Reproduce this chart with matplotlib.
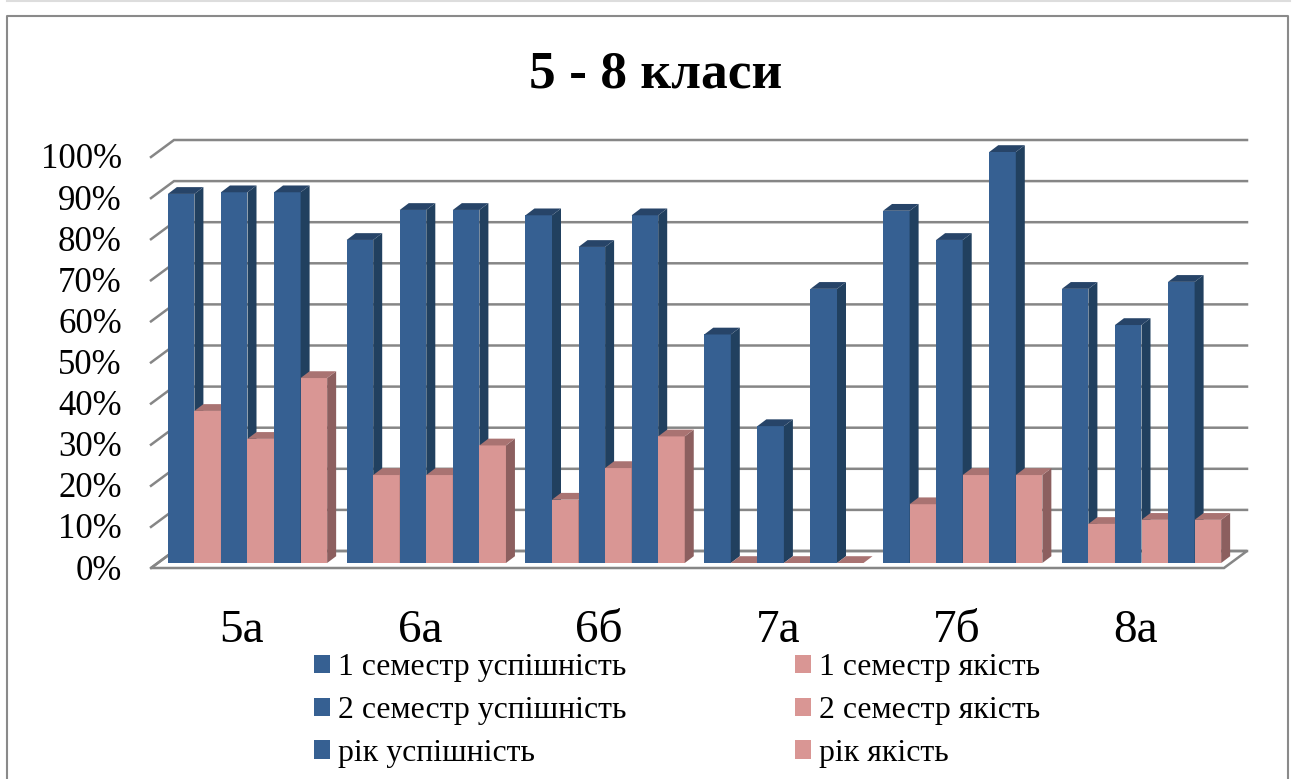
import matplotlib
matplotlib.use('Agg')
import matplotlib.pyplot as plt
from matplotlib.lines import Line2D

plt.rcParams['font.family'] = ['Liberation Serif', 'DejaVu Serif']

classes = ['5а', '6а', '6б', '7а', '7б', '8а']
sem1_pass = [89.8, 78.6, 84.6, 55.6, 85.7, 66.7]
sem1_qual = [37.0, 21.4, 15.4, 0, 14.3, 9.5]
sem2_pass = [90.2, 85.9, 76.9, 33.3, 78.6, 57.9]
sem2_qual = [30.2, 21.4, 23.1, 0, 21.4, 10.5]
year_pass = [90.2, 85.9, 84.6, 66.7, 100, 68.4]
year_qual = [45.0, 28.6, 30.8, 0, 21.4, 10.5]
y_ticks = list(range(0, 101, 10))

series = [
    ('1 семестр успішність', sem1_pass, 'blue'),
    ('1 семестр якість', sem1_qual, 'pink'),
    ('2 семестр успішність', sem2_pass, 'blue'),
    ('2 семестр якість', sem2_qual, 'pink'),
    ('рік успішність', year_pass, 'blue'),
    ('рік якість', year_qual, 'pink'),
]
colors = {
    'blue': ('#366092', '#21405F', '#274468'),
    'pink': ('#D99694', '#8C5F5F', '#A97372'),
}

W, H = 1296, 779
GROUP_PX = 178.8   # pixels per category
PCT_PX = 4.11      # pixels per percent
X0_PX = 247.5      # centre of first category
Y0_PX = 563        # bar base


def hpx(px):
    return px / GROUP_PX


def vpx(px):
    return px / PCT_PX


fig = plt.figure(figsize=(W / 100, H / 100), dpi=100)
ax = fig.add_axes([0, 0, 1, 1])
ax.set_xlim(-X0_PX / GROUP_PX, (W - X0_PX) / GROUP_PX)
ax.set_ylim(-(H - Y0_PX) / PCT_PX, Y0_PX / PCT_PX)
ax.axis('off')

# walls and floor
left = hpx(151 - X0_PX)
right = hpx(1224 - X0_PX)
front = vpx(Y0_PX - 568)
wall_dx = hpx(23)
wall_dy = vpx(17)
grid = '#868686'
ax.fill([left, right, right + wall_dx, left + wall_dx],
        [front, front, front + wall_dy, front + wall_dy],
        facecolor='white', edgecolor=grid, linewidth=1.8, zorder=1)
for t in y_ticks:
    y = front + t
    ax.plot([left, left + wall_dx, right + wall_dx],
            [y, y + wall_dy, y + wall_dy], color=grid, lw=1.8, zorder=2,
            solid_joinstyle='miter')
    ax.text(hpx(122 - X0_PX), y - vpx(3), f'{t}%', ha='right', va='center', fontsize=25,
            color='black', zorder=3)

# bars, painted left to right so every bar overlaps the side of the previous one
bar_w = 26.55 / GROUP_PX
depth_x = hpx(9)
depth_y = vpx(6.8)
handles = {}
for s, (label, values, col) in enumerate(series):
    face, side, top = colors[col]
    xs = [g + (s - 2.5) * bar_w for g in range(len(classes))]
    bars = ax.bar(xs, values, width=bar_w, color=face, label=label, linewidth=0)
    handles[label] = bars
    for g, (x, v) in enumerate(zip(xs, values)):
        z = 10 + g * 10 + s
        bars[g].set_zorder(z)
        x1 = x - bar_w / 2
        x2 = x + bar_w / 2
        ax.fill([x2, x2 + depth_x, x2 + depth_x, x2],
                [0, depth_y, v + depth_y, v], color=side, lw=0, zorder=z + 0.1)
        ax.fill([x1, x2, x2 + depth_x, x1 + depth_x],
                [v, v, v + depth_y, v + depth_y], color=top, lw=0, zorder=z + 0.2)

for g, name in enumerate(classes):
    ax.text(g - hpx(6), vpx(Y0_PX - 631), name, ha='center', va='center', fontsize=34,
            color='black')

ax.text(hpx(656 - X0_PX), vpx(Y0_PX - 74), '5 - 8 класи', ha='center', va='center',
        fontsize=38.4, fontweight='bold', color='black')

order = [series[0][0], series[2][0], series[4][0], series[1][0], series[3][0], series[5][0]]
ax.legend([handles[k] for k in order], order, ncols=2, frameon=False, fontsize=22.9,
          loc='upper left', bbox_to_anchor=(314 / W, 1 - 653.5 / H), borderaxespad=0,
          borderpad=0, handlelength=0.5, handleheight=0.5, handletextpad=0.25,
          labelspacing=0.43, columnspacing=5.3)

# chart frame
frame = '#8A8A8A'
fig.add_artist(Line2D([6.5 / W, 6.5 / W, 1288 / W, 1288 / W],
                      [0, 1 - 16 / H, 1 - 16 / H, 0], color=frame, lw=1.5))
fig.add_artist(Line2D([7 / W, 1290 / W], [1 - 0.5 / H, 1 - 0.5 / H], color='#DDDDDD', lw=1.5))

fig.savefig('out.png', dpi=100)
